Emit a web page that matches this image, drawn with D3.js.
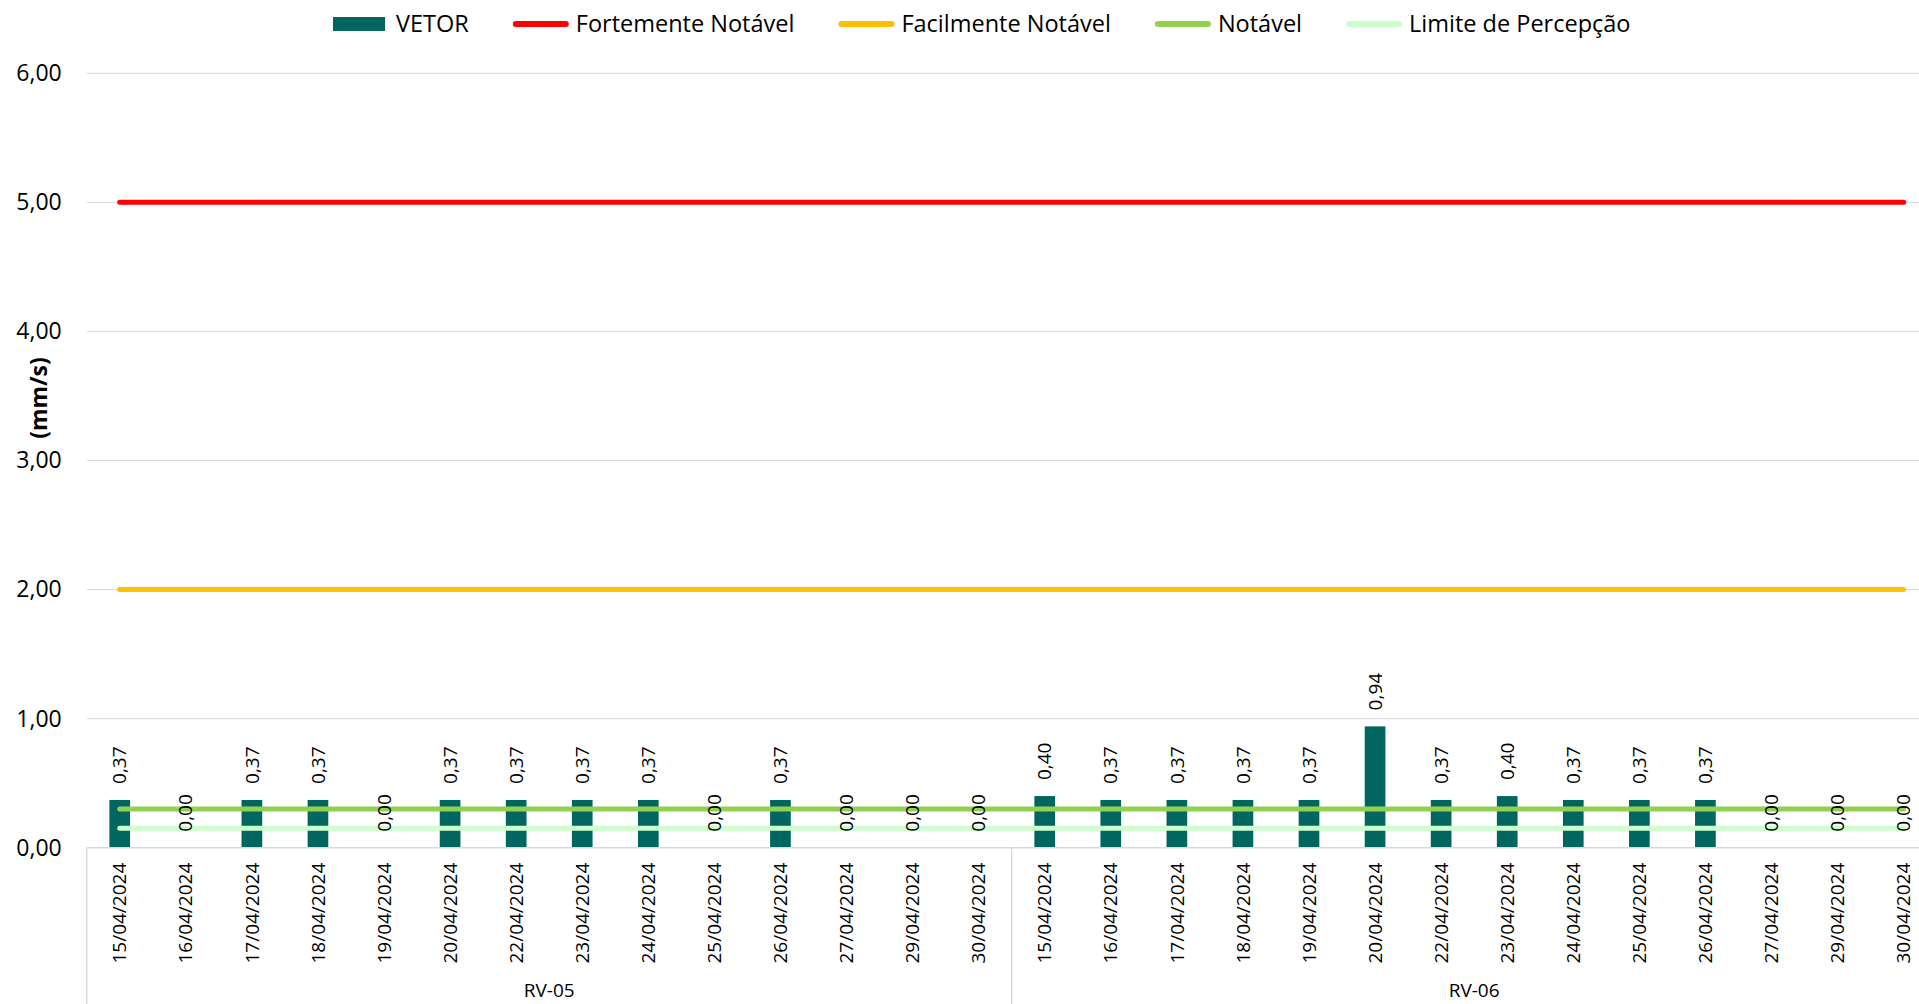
<!DOCTYPE html>
<meta charset="utf-8">
<style>
body { margin: 0; overflow: hidden; background: #fff; }
text { font-family: "Open Sans", sans-serif; fill: #000; }
.grid line { stroke: #d9d9d9; stroke-width: 1px; }
.bar { fill: #00665f; }
.limit { fill: none; stroke-width: 5px; stroke-linecap: round; }
</style>
<body>
<script src="https://cdnjs.cloudflare.com/ajax/libs/d3/7.8.5/d3.min.js"></script>
<script>

// data
var groups = ["RV-05", "RV-06"];
var dates = ["15/04/2024", "16/04/2024", "17/04/2024", "18/04/2024", "19/04/2024", "20/04/2024", "22/04/2024",
             "23/04/2024", "24/04/2024", "25/04/2024", "26/04/2024", "27/04/2024", "29/04/2024", "30/04/2024"];
var rv05 = [0.37, 0.00, 0.37, 0.37, 0.00, 0.37, 0.37, 0.37, 0.37, 0.00, 0.37, 0.00, 0.00, 0.00];
var rv06 = [0.40, 0.37, 0.37, 0.37, 0.37, 0.94, 0.37, 0.40, 0.37, 0.37, 0.37, 0.00, 0.00, 0.00];
var limitNames = ["Fortemente Notável", "Facilmente Notável", "Notável", "Limite de Percepção"];
var limitValues = [5, 2, 0.3, 0.15];
var limitColors = ["#ff0000", "#ffc000", "#92d050", "#ccffcc"];
var yTicks = [0, 1, 2, 3, 4, 5, 6];

// flatten into one list of categories
var data = [];
[rv05, rv06].forEach(function(vals, g) {
  vals.forEach(function(v, i) {
    data.push({ key: groups[g] + "|" + dates[i], group: groups[g], date: dates[i], value: v });
  });
});

var W = 1919, H = 1004;
var plotLeft = 86.7, stepW = 66.07, plotTop = 73.3, plotBottom = 847.7;
var plotRight = plotLeft + data.length * stepW;

var svg = d3.select("body").append("svg")
    .attr("width", W)
    .attr("height", H);

var x = d3.scaleBand()
    .domain(data.map(function(d) { return d.key; }))
    .range([plotLeft, plotRight])
    .paddingInner(0.687)
    .paddingOuter(0.3435);

var xg = d3.scaleBand()
    .domain(groups)
    .range([plotLeft, plotRight]);

var y = d3.scaleLinear()
    .domain([0, 6])
    .range([plotBottom, plotTop]);

var fmt = function(v) { return d3.format(".2f")(v).replace(".", ","); };

// gridlines
svg.append("g")
    .attr("class", "grid")
    .selectAll("line")
    .data(yTicks.slice(1))
    .enter().append("line")
    .attr("x1", plotLeft).attr("x2", plotRight)
    .attr("y1", function(d) { return y(d); })
    .attr("y2", function(d) { return y(d); });

// y axis labels
svg.append("g")
    .attr("transform", "translate(" + plotLeft + ",0)")
    .call(d3.axisLeft(y).tickValues(yTicks).tickFormat(fmt).tickSize(0).tickPadding(25))
    .call(function(g) { g.select(".domain").remove(); })
    .selectAll("text")
    .style("font-family", "Open Sans")
    .style("font-size", "23px")
    .attr("fill", "#000");

// y axis title
svg.append("text")
    .attr("transform", "translate(38.5,398) rotate(-90)")
    .attr("text-anchor", "middle")
    .attr("dy", "0.35em")
    .style("font-size", "23px")
    .style("font-weight", "bold")
    .text("(mm/s)");

// bars
svg.selectAll(".bar")
    .data(data)
    .enter().append("rect")
    .attr("class", "bar")
    .attr("x", function(d) { return x(d.key); })
    .attr("width", x.bandwidth())
    .attr("y", function(d) { return y(d.value); })
    .attr("height", function(d) { return y(0) - y(d.value); });

// limit lines
var line = d3.line()
    .x(function(d) { return x(d.key) + x.bandwidth() / 2; })
    .y(function(d) { return y(d.v); });

limitValues.forEach(function(v, i) {
  svg.append("path")
      .datum(data.map(function(d) { return { key: d.key, v: v }; }))
      .attr("class", "limit")
      .attr("stroke", limitColors[i])
      .attr("d", line);
});

// data labels
svg.selectAll(".lbl")
    .data(data)
    .enter().append("text")
    .attr("class", "lbl")
    .attr("transform", function(d) {
      return "translate(" + (x(d.key) + x.bandwidth() / 2) + "," + (y(d.value) - 16) + ") rotate(-90)";
    })
    .attr("dy", "0.35em")
    .style("font-size", "19px")
    .text(function(d) { return fmt(d.value); });

// category axis
svg.append("line")
    .attr("x1", plotLeft).attr("x2", plotRight)
    .attr("y1", plotBottom).attr("y2", plotBottom)
    .attr("stroke", "#d9d9d9").attr("stroke-width", 1.5);

svg.selectAll(".div")
    .data(groups.concat(["end"]))
    .enter().append("line")
    .attr("x1", function(d, i) { return i < groups.length ? xg(d) : plotRight; })
    .attr("x2", function(d, i) { return i < groups.length ? xg(d) : plotRight; })
    .attr("y1", plotBottom).attr("y2", H)
    .attr("stroke", "#d9d9d9").attr("stroke-width", 1.5);

svg.selectAll(".date")
    .data(data)
    .enter().append("text")
    .attr("class", "date")
    .attr("transform", function(d) {
      return "translate(" + (x(d.key) + x.bandwidth() / 2) + "," + (plotBottom + 15) + ") rotate(-90)";
    })
    .attr("text-anchor", "end")
    .attr("dy", "0.35em")
    .style("font-size", "19px")
    .text(function(d) { return d.date; });

svg.selectAll(".grp")
    .data(groups)
    .enter().append("text")
    .attr("class", "grp")
    .attr("x", function(d) { return xg(d) + xg.bandwidth() / 2; })
    .attr("y", 997)
    .attr("text-anchor", "middle")
    .style("font-size", "19px")
    .text(function(d) { return d; });

// legend
var legend = svg.append("g").attr("transform", "translate(333,24)");
var lx = 0;
var items = [{ name: "VETOR", type: "bar", color: "#00665f" }].concat(
  limitNames.map(function(n, i) { return { name: n, type: "line", color: limitColors[i] }; }));

items.forEach(function(it) {
  if (it.type === "bar") {
    legend.append("rect")
        .attr("x", lx).attr("y", -7)
        .attr("width", 52).attr("height", 14)
        .attr("fill", it.color);
  } else {
    legend.append("line")
        .attr("x1", lx + 3).attr("x2", lx + 53)
        .attr("y1", 0).attr("y2", 0)
        .attr("stroke", it.color)
        .attr("stroke-width", 6)
        .attr("stroke-linecap", "round");
  }
  var t = legend.append("text")
      .attr("x", lx + 63)
      .attr("dy", "0.35em")
      .style("font-size", "23.5px")
      .text(it.name);
  lx += 63 + t.node().getComputedTextLength() + 44;
});

</script>
</body>
